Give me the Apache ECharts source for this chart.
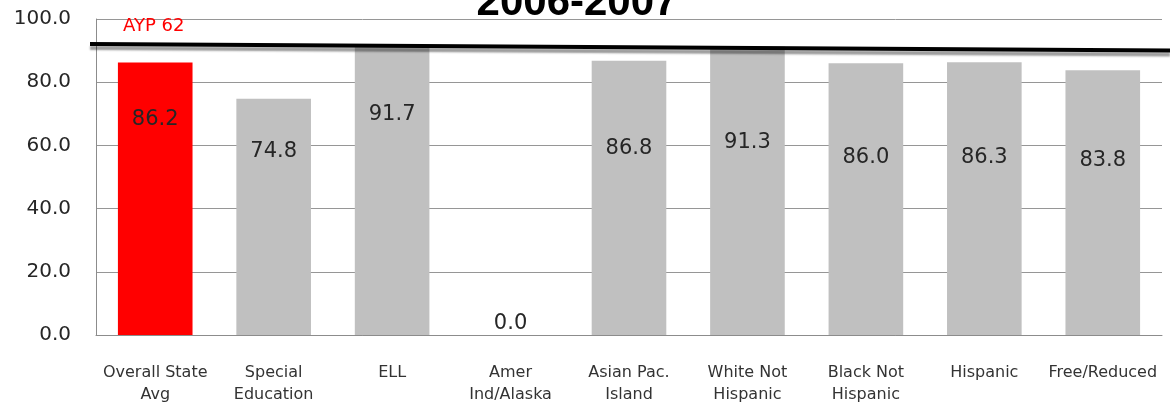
<!DOCTYPE html>
<html>
<head>
<meta charset="utf-8">
<script src="https://cdn.jsdelivr.net/npm/echarts@6/dist/echarts.min.js"></script>
<style>
  html, body { margin: 0; padding: 0; background: #ffffff; }
  #chart { width: 1170px; height: 409px; }
</style>
</head>
<body>
<div id="chart"></div>
<script>
// Percent proficient by student group, 2006-2007
const categories = [
  'Overall State\nAvg', 'Special\nEducation', 'ELL', 'Amer\nInd/Alaska',
  'Asian Pac.\nIsland', 'White Not\nHispanic', 'Black Not\nHispanic', 'Hispanic', 'Free/Reduced'
];
const percents = [86.2, 74.8, 91.7, 0.0, 86.8, 91.3, 86.0, 86.3, 83.8];
const yTicks = [0, 20, 40, 60, 80, 100];
const titleText = '2006-2007';
const targetText = 'AYP 62';
// hand-drawn target rule: value at its left and right ends
const targetEnds = [92.1, 90.0];

// styling: bar fills and how far each value label sits below its bar top (px)
const barFills = ['#ff0000', '#c0c0c0', '#c0c0c0', '#c0c0c0', '#c0c0c0', '#c0c0c0', '#c0c0c0', '#c0c0c0', '#c0c0c0'];
const labelDrop = [57, 53, 69, null, 88, 96, 94, 95, 90];

const labelFont = 'DejaVu Sans';
const chart = echarts.init(document.getElementById('chart'), null, { renderer: 'canvas' });

const barData = percents.map((v, i) => {
  const item = { value: v, itemStyle: { color: barFills[i] } };
  if (labelDrop[i] == null) {
    item.label = { position: 'top', distance: 1, verticalAlign: 'bottom' };
  } else {
    item.label = { position: ['50%', labelDrop[i]], align: 'center', verticalAlign: 'middle' };
  }
  return item;
});

chart.setOption({
  animation: false,
  backgroundColor: '#ffffff',
  grid: { left: 96, right: 8, top: 19, bottom: 74, containLabel: false },
  xAxis: {
    type: 'category',
    data: categories,
    axisLine: { show: true, lineStyle: { color: '#8c8c8c', width: 1 } },
    axisTick: { show: false },
    axisLabel: {
      interval: 0,
      margin: 27,
      color: '#333333',
      fontFamily: labelFont,
      fontSize: 16,
      lineHeight: 22,
      align: 'center'
    }
  },
  yAxis: {
    type: 'value',
    min: yTicks[0],
    max: yTicks[yTicks.length - 1],
    interval: yTicks[1] - yTicks[0],
    axisLine: { show: true, lineStyle: { color: '#8c8c8c', width: 1 } },
    axisTick: { show: false },
    splitLine: { show: true, lineStyle: { color: '#969696', width: 1 } },
    axisLabel: {
      margin: 25,
      color: '#262626',
      fontFamily: labelFont,
      fontSize: 20,
      formatter: v => v.toFixed(1)
    }
  },
  series: [{
    type: 'bar',
    data: barData,
    barWidth: '63%',
    label: {
      show: true,
      color: '#262626',
      fontFamily: labelFont,
      fontSize: 21,
      formatter: p => Number(p.value).toFixed(1)
    }
  }]
});

// target rule, its caption, and the heading
const yLeft = chart.convertToPixel({ yAxisIndex: 0 }, targetEnds[0]);
const yRight = chart.convertToPixel({ yAxisIndex: 0 }, targetEnds[1]);
chart.setOption({
  graphic: [
    {
      type: 'line',
      z: 100,
      shape: { x1: 90, y1: yLeft, x2: 1170, y2: yRight },
      style: {
        stroke: '#000000',
        lineWidth: 4,
        shadowColor: 'rgba(0,0,0,0.4)',
        shadowBlur: 2,
        shadowOffsetY: 4
      }
    },
    {
      type: 'text',
      z: 100,
      x: 123,
      y: 26,
      style: {
        text: targetText,
        fill: '#ff0000',
        font: '18px "DejaVu Sans"',
        textAlign: 'left',
        textVerticalAlign: 'middle'
      }
    },
    {
      type: 'text',
      z: 100,
      x: 577,
      y: 24,
      style: {
        text: titleText,
        fill: '#000000',
        font: 'bold 42px "Liberation Sans"',
        textAlign: 'center',
        textVerticalAlign: 'bottom'
      }
    }
  ]
});
</script>
</body>
</html>
